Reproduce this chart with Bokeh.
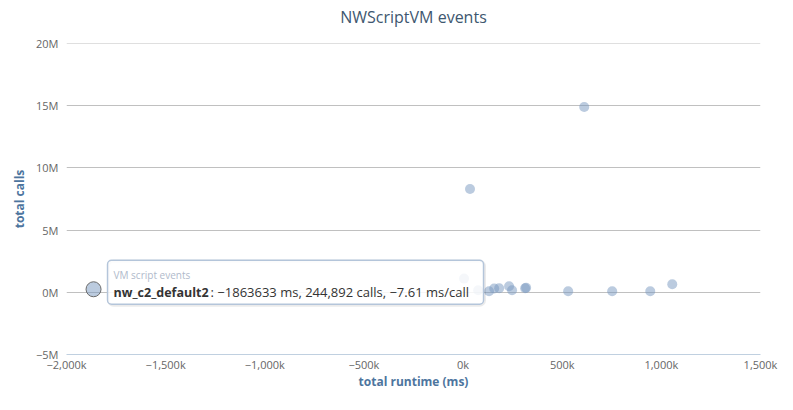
from bokeh.plotting import figure
from bokeh.models import (Range1d, FixedTicker, CustomJSTickFormatter, Label, BoxAnnotation,
                          ColumnDataSource, Span, Title)
from bokeh.embed import file_html
from bokeh.resources import INLINE

# ---- data ----
runtime_ms = [611000, 35000, 5000, 76000, 131000, 157000, 182000, 232000, 247000,
              313000, 318000, 530000, 752000, 944000, 1055000]
total_calls = [14900000, 8300000, 1100000, 160000, 80000, 300000, 330000, 480000, 160000,
               330000, 360000, 80000, 80000, 80000, 640000]
hl_name = "nw_c2_default2"
hl_runtime = -1863633
hl_calls = 244892
x_ticks = [-2000000, -1500000, -1000000, -500000, 0, 500000, 1000000, 1500000]
y_ticks = [-5000000, 0, 5000000, 10000000, 15000000, 20000000]
chart_title = "NWScriptVM events"

FONT = "Open Sans"
X0, X1 = -2000000, 1500000
Y0, Y1 = -5000000, 20000000
FW, FH = 694, 311

p = figure(frame_width=FW, frame_height=FH, min_border_left=66, min_border_right=33,
           min_border_top=43, min_border_bottom=56,
           x_range=Range1d(X0, X1), y_range=Range1d(Y0, Y1),
           output_backend="svg", toolbar_location=None, title=chart_title)
p.outline_line_color = None
p.background_fill_color = "white"
p.border_fill_color = "white"

p.title.align = "center"
p.title.vertical_align = "top"
p.title.text_font = FONT
p.title.text_font_size = "16px"
p.title.text_font_style = "normal"
p.title.text_color = "#3E576F"
p.title.standoff = 11
# small spacer between the title and the plot area
p.add_layout(Title(text=" ", text_font_size="1px", standoff=5), "above")

# x axis
xa = p.xaxis[0]
xa.ticker = FixedTicker(ticks=x_ticks)
xa.formatter = CustomJSTickFormatter(
    code="return (tick/1000).toLocaleString('en-US').replace('-', '\u2212') + 'k';")
xa.axis_line_color = "#C0D0E0"
xa.major_tick_line_color = None
xa.minor_tick_line_color = None
xa.major_tick_in = 0
xa.major_tick_out = 0
xa.major_label_standoff = 2
xa.major_label_text_font = FONT
xa.major_label_text_font_size = "11px"
xa.major_label_text_color = "#666666"
xa.axis_label = "total runtime (ms)"
xa.axis_label_text_font = FONT
xa.axis_label_text_font_size = "12px"
xa.axis_label_text_font_style = "bold"
xa.axis_label_text_color = "#4d759e"
xa.axis_label_standoff = -2

# y axis
ya = p.yaxis[0]
ya.ticker = FixedTicker(ticks=y_ticks)
ya.formatter = CustomJSTickFormatter(
    code="return (tick/1000000).toLocaleString('en-US').replace('-', '\u2212') + 'M';")
ya.axis_line_color = None
ya.major_tick_line_color = None
ya.minor_tick_line_color = None
ya.major_tick_in = 0
ya.major_tick_out = 0
ya.major_label_standoff = 8
ya.major_label_text_font = FONT
ya.major_label_text_font_size = "11px"
ya.major_label_text_color = "#666666"
ya.axis_label = "total calls"
ya.axis_label_text_font = FONT
ya.axis_label_text_font_size = "12px"
ya.axis_label_text_font_style = "bold"
ya.axis_label_text_color = "#4d759e"
ya.axis_label_standoff = 5

p.xgrid.grid_line_color = None
p.ygrid.ticker = FixedTicker(ticks=y_ticks)
p.ygrid.grid_line_color = "#C0C0C0"
p.ygrid.grid_line_width = 1
# the grid skips the line at the top end of the range; draw it explicitly
p.add_layout(Span(location=y_ticks[-1], dimension="width", line_color="#C0C0C0", line_width=1))

src = ColumnDataSource(dict(x=runtime_ms, y=total_calls))
p.scatter("x", "y", source=src, size=10, fill_color="#7798BF", fill_alpha=0.5, line_color=None)

hl = ColumnDataSource(dict(x=[hl_runtime], y=[hl_calls]))
p.scatter("x", "y", source=hl, size=15, fill_color="#7798BF", fill_alpha=0.5,
          line_color="#6b6b6b", line_width=1)

# ---- tooltip anchored to the highlighted point ----
px = (hl_runtime - X0) / (X1 - X0) * FW
py = (hl_calls - Y0) / (Y1 - Y0) * FH
bl, br, bb, bt = px + 14, px + 390, py - 15, py + 29

shadow = BoxAnnotation(left=bl + 1, right=br + 1, bottom=bb - 1, top=bt - 1,
                       left_units="screen", right_units="screen",
                       bottom_units="screen", top_units="screen",
                       fill_alpha=0, line_color="black", line_alpha=0.08, line_width=3,
                       border_radius=5, level="overlay")
box = BoxAnnotation(left=bl, right=br, bottom=bb, top=bt,
                    left_units="screen", right_units="screen",
                    bottom_units="screen", top_units="screen",
                    fill_color="white", fill_alpha=0.85,
                    line_color="#b4c5da", line_width=1.5, line_alpha=1,
                    border_radius=4, level="overlay")
p.add_layout(shadow)
p.add_layout(box)

ms_per_call = hl_runtime / hl_calls
p.add_layout(Label(x=hl_runtime, y=hl_calls, x_offset=20, y_offset=14,
                   text="VM script events", text_font=FONT, text_font_size="10px",
                   text_color="#b0bacb", text_baseline="middle", level="overlay"))
p.add_layout(Label(x=hl_runtime, y=hl_calls, x_offset=20, y_offset=-3,
                   text=hl_name, text_font=FONT, text_font_size="12.5px",
                   text_font_style="bold", text_color="#333333",
                   text_baseline="middle", level="overlay"))
rest = (f": {hl_runtime} ms, {hl_calls:,} calls, {ms_per_call:.2f} ms/call").replace("-", "\u2212")
p.add_layout(Label(x=hl_runtime, y=hl_calls, x_offset=117, y_offset=-3,
                   text=rest, text_font=FONT, text_font_size="13px",
                   text_color="#333333", text_baseline="middle", level="overlay"))

open("out.html", "w").write(file_html(p, INLINE))
